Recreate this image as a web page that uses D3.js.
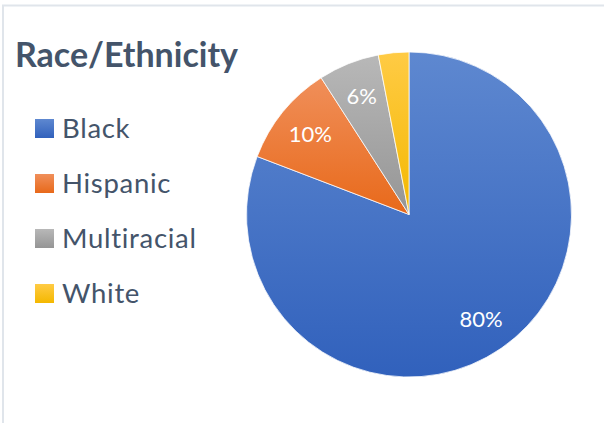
<!DOCTYPE html>
<html>
<head>
<meta charset="utf-8">
<script src="https://cdn.jsdelivr.net/npm/d3@7"></script>
<style>
  body { margin: 0; background: #fff; }
  svg { display: block; }
</style>
</head>
<body>
<div id="chart"></div>
<script>
// Race/Ethnicity pie
var categories = ['Black', 'Hispanic', 'Multiracial', 'White'];
var values = [80, 10, 6, 3];
var sliceLabels = ['80%', '10%', '6%', ''];
var colorsTop = ['#5E88D0', '#F08F5A', '#B8B8B8', '#FFCB45'];
var colorsBottom = ['#3161BC', '#E8691A', '#959595', '#F4B800'];

var width = 604,
    height = 423,
    cx = 409,
    cy = 214.5,
    radius = 162.5,
    labelRadius = 127,
    textColor = '#44546A',
    fontFamily = 'Lato, "Open Sans", sans-serif';

var svg = d3.select('#chart').append('svg')
    .attr('width', width)
    .attr('height', height);

// chart frame (only top/left edges visible in the screenshot)
svg.append('path')
    .attr('d', 'M3,' + height + 'V5.5H' + width)
    .attr('fill', 'none')
    .attr('stroke', '#E0E5EB')
    .attr('stroke-width', 2);

var defs = svg.append('defs');
categories.forEach(function (c, i) {
    var g = defs.append('linearGradient')
        .attr('id', 'grad' + i)
        .attr('x1', 0).attr('y1', 0)
        .attr('x2', 0).attr('y2', 1);
    g.append('stop').attr('offset', '0%').attr('stop-color', colorsTop[i]);
    g.append('stop').attr('offset', '100%').attr('stop-color', colorsBottom[i]);
});

svg.append('text')
    .attr('x', 15)
    .attr('y', 67)
    .attr('font-family', fontFamily)
    .attr('font-weight', 'bold')
    .attr('font-size', 34)
    .attr('fill', textColor)
    .text('Race/Ethnicity');

var pie = d3.pie().sort(null).value(function (d) { return d; });
var arc = d3.arc().innerRadius(0).outerRadius(radius);
var labelArc = d3.arc().innerRadius(labelRadius).outerRadius(labelRadius);

var arcs = pie(values);

var pieG = svg.append('g')
    .attr('transform', 'translate(' + cx + ',' + cy + ')');

pieG.selectAll('path.slice')
    .data(arcs)
    .enter()
    .append('path')
    .attr('class', 'slice')
    .attr('d', arc)
    .attr('fill', function (d, i) { return 'url(#grad' + i + ')'; })
    .attr('stroke', '#fff')
    .attr('stroke-width', 0.75);

pieG.selectAll('text.lbl')
    .data(arcs)
    .enter()
    .append('text')
    .attr('class', 'lbl')
    .attr('transform', function (d) { return 'translate(' + labelArc.centroid(d) + ')'; })
    .attr('text-anchor', 'middle')
    .attr('dy', '0.35em')
    .attr('font-family', fontFamily)
    .attr('font-size', 22)
    .attr('fill', '#fff')
    .text(function (d, i) { return sliceLabels[i]; });

// legend
var legendY = d3.scalePoint().domain(categories).range([137.5, 302.5]);

var legend = svg.append('g');
var items = legend.selectAll('g')
    .data(categories)
    .enter()
    .append('g')
    .attr('transform', function (d) { return 'translate(0,' + legendY(d) + ')'; });

items.append('rect')
    .attr('x', 35)
    .attr('y', -18.5)
    .attr('width', 19)
    .attr('height', 19)
    .attr('fill', function (d, i) { return 'url(#grad' + i + ')'; });

items.append('text')
    .attr('x', 62)
    .attr('y', 0)
    .attr('font-family', fontFamily)
    .attr('font-size', 27.5)
    .attr('letter-spacing', 0.7)
    .attr('fill', textColor)
    .text(function (d) { return d; });
</script>
</body>
</html>
